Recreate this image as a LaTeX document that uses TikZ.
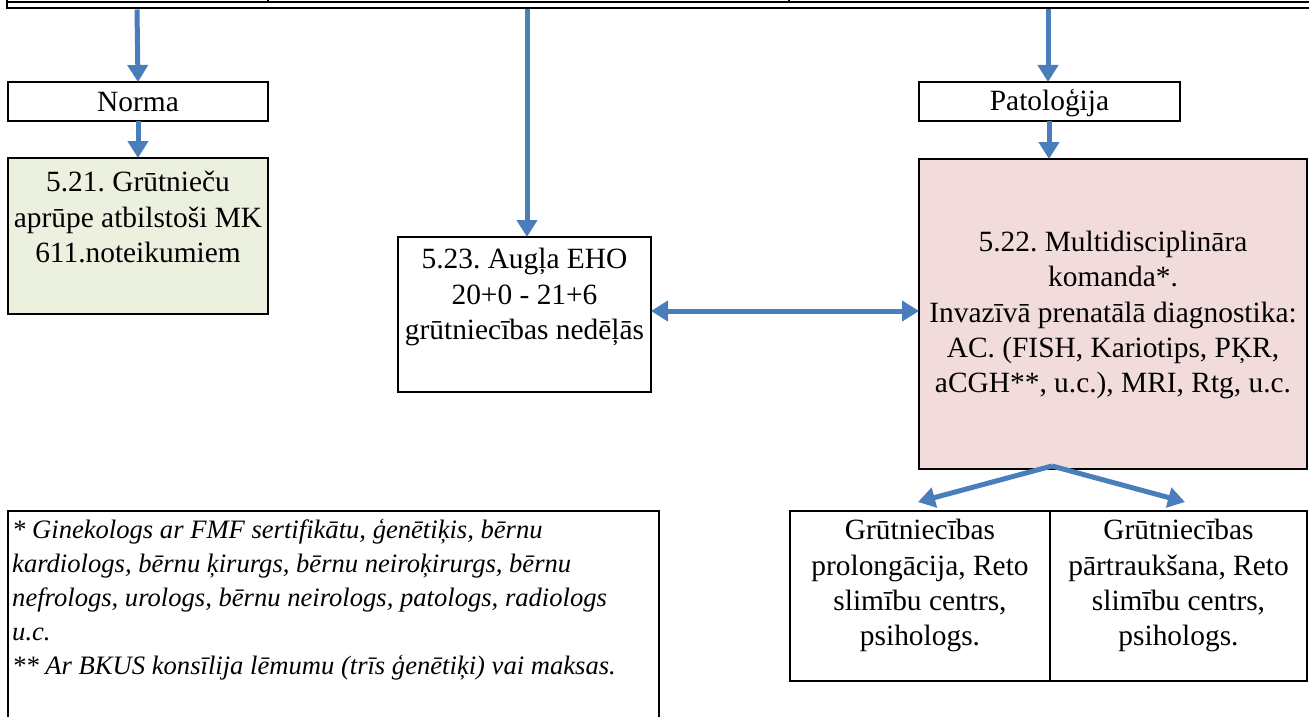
\documentclass[tikz,border=0pt]{standalone}
\usepackage{fontspec}
\setmainfont{Liberation Serif}
\usetikzlibrary{arrows.meta}
\definecolor{arrowblue}{HTML}{4A7EBB}
\definecolor{greenfill}{HTML}{EBF1DE}
\definecolor{pinkfill}{HTML}{F2DCDB}
\frenchspacing
\begin{document}
\begin{tikzpicture}[x=1pt,y=-1pt,
  box/.style={draw=black,line width=2pt,inner sep=0pt,outer sep=0pt,anchor=north west},
  flow/.style={draw=arrowblue,line width=5pt,-{Triangle[width=20pt,length=17pt]}},
  flowboth/.style={draw=arrowblue,line width=5pt,{Triangle[width=20pt,length=17pt]}-{Triangle[width=20pt,length=17pt]}},
  txt/.style={font=\fontsize{29.4}{35.4}\selectfont,align=center,inner sep=0pt},
  ftxt/.style={font=\fontsize{26.6}{34}\selectfont\itshape,align=left,inner sep=0pt}]
\useasboundingbox (0,0) rectangle (1309,717);
\clip (0,0) rectangle (1309,717);
% top table (cut off)
\draw[line width=2pt] (7,-40) -- (7,8.5) -- (1320,8.5);
\draw[line width=2pt] (7,2.5) -- (1320,2.5);
\draw[line width=1.5pt] (268,-40) -- (268,2.5);
\draw[line width=1.5pt] (789,-40) -- (789,2.5);
\coordinate (s1) at (137,9.5);
\coordinate (s2) at (527,9.5);
\coordinate (s3) at (1048,9.5);
% boxes
\node[box,minimum width=260pt,minimum height=39pt] (norma) at (8,82) {};
\node[txt] at ([yshift=-1pt]norma.center) {Norma};
\node[box,fill=greenfill,minimum width=260pt,minimum height=156pt] (b521) at (8,158) {};
\node[txt,anchor=north] at ([yshift=-13pt]b521.north) {5.21. Grūtnieču\\aprūpe atbilstoši MK\\611.noteikumiem};
\node[box,minimum width=253pt,minimum height=155pt] (b523) at (398,237) {};
\node[txt,anchor=north] at ([yshift=-11pt]b523.north) {5.23. Augļa EHO\\20+0 - 21+6\\grūtniecības nedēļās};
\node[box,minimum width=261pt,minimum height=39pt] (patol) at (919,82) {};
\node[txt] at ([yshift=-1pt]patol.center) {Patoloģija};
\node[box,fill=pinkfill,minimum width=388pt,minimum height=310pt] (b522) at (919,159) {};
\node[txt] at ([yshift=-1pt]b522.center) {5.22. Multidisciplināra\\komanda*.\\Invazīvā prenatālā diagnostika:\\AC. (FISH, Kariotips, PĶR,\\aCGH**, u.c.), MRI, Rtg, u.c.};
\node[box,minimum width=260pt,minimum height=170pt] (bl) at (790,511) {};
\node[txt,anchor=north] at ([yshift=-8pt]bl.north) {Grūtniecības\\prolongācija, Reto\\slimību centrs,\\psihologs.};
\node[box,minimum width=257pt,minimum height=170pt] (br) at (1050,511) {};
\node[txt,anchor=north] at ([yshift=-8pt]br.north) {Grūtniecības\\pārtraukšana, Reto\\slimību centrs,\\psihologs.};
\node[box,minimum width=651pt,minimum height=220pt] (foot) at (8,511) {};
\node[ftxt,anchor=north west] at ([xshift=4pt,yshift=-8pt]foot.north west) {* Ginekologs ar FMF sertifikātu, ģenētiķis, bērnu\\kardiologs, bērnu ķirurgs, bērnu neiroķirurgs, bērnu\\nefrologs, urologs, bērnu neirologs, patologs, radiologs\\u.c.\\** Ar BKUS konsīlija lēmumu (trīs ģenētiķi) vai maksas.};
% arrows
\draw[flow] (s1) -- (norma.north);
\draw[flow] (norma.south) -- (b521.north);
\draw[flow] (s2) -- (b523.north -| s2);
\draw[flow] (s3) -- (patol.north -| s3);
\draw[flow] (patol.south -| 1049,0) -- (b522.north -| 1049,0);
\draw[flowboth] (b523.east |- 0,311) -- (b522.west |- 0,311);
\coordinate (apex) at (1052,466);
\coordinate (tl) at (918,502);
\coordinate (tr) at (1185,502);
\draw[flow,line join=round] (apex) -- (tl);
\draw[flow,line join=round] (apex) -- (tr);
\end{tikzpicture}
\end{document}
